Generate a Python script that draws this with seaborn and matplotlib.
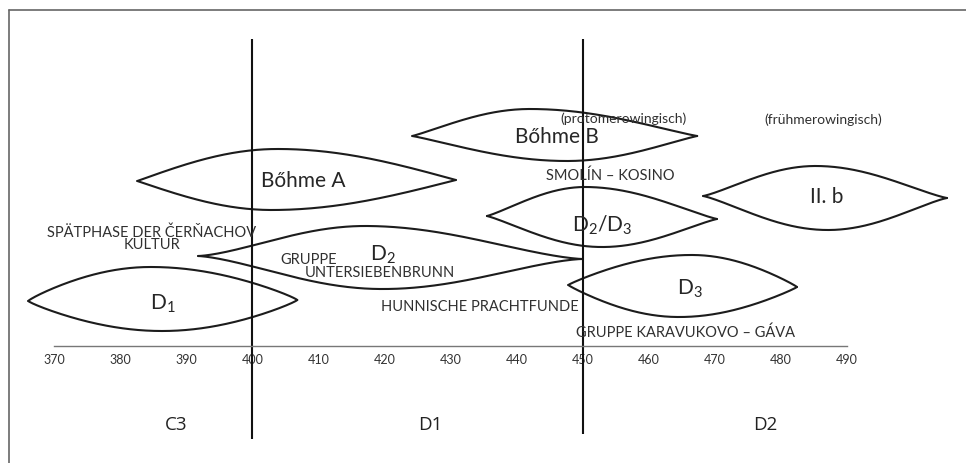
import numpy as np
import pandas as pd
import matplotlib
matplotlib.use("Agg")
import matplotlib.pyplot as plt
import seaborn as sns

# lens-shaped chronology groups (years on x, arbitrary level above the time axis on y)
group_names = ["D1", "Böhme A", "Böhme B", "II.b", "D2/D3", "D2", "D3"]
start_year = [366.1, 382.6, 424.2, 468.2, 435.5, 391.8, 447.8]
end_year = [406.8, 430.8, 467.3, 505.1, 470.3, 449.9, 482.4]
tip_left = [4.5, 16.5, 21.0, 15.0, 13.0, 9.0, 6.1]
tip_right = [4.6, 16.6, 21.0, 14.8, 12.7, 8.7, 5.9]
top_level = [7.9, 19.7, 23.7, 18.0, 15.9, 12.0, 9.1]
top_peak_year = [384.5, 403.7, 442.0, 485.4, 450.6, 417.4, 466.7]
bottom_level = [1.5, 13.6, 18.5, 11.6, 9.9, 5.7, 2.9]
bottom_peak_year = [386.5, 403.1, 447.6, 486.9, 452.6, 419.3, 464.3]
# how sharply each lens tapers toward its tips (1 = plain sine arc)
taper = [0.85, 1.0, 1.1, 1.2, 1.15, 1.45, 0.9]

# lens captions
lens_labels = [r"$\mathrm{D_1}$", "Bőhme A", "Bőhme B", "II. b",
               r"$\mathrm{D_2/D_3}$", r"$\mathrm{D_2}$", r"$\mathrm{D_3}$"]
lens_label_year = [386.5, 407.7, 446.1, 486.9, 452.9, 419.8, 466.2]
lens_label_level = [4.3, 16.6, 21.0, 15.0, 12.2, 9.2, 5.8]

# small-caps annotations
notes = ["(protomerowingisch)", "(frühmerowingisch)", "SMOLÍN – KOSINO",
         "SPÄTPHASE DER ČERŇACHOV", "KULTUR", "HUNNISCHE PRACHTFUNDE",
         "GRUPPE KARAVUKOVO – GÁVA"]
note_year = [456.1, 486.3, 454.1, 384.8, 384.8, 434.4, 465.5]
note_level = [22.8, 22.7, 17.1, 11.45, 10.2, 4.0, 1.4]

# Untersiebenbrunn group text (left aligned)
gruppe_lines = ["GRUPPE", "UNTERSIEBENBRUNN"]
gruppe_year = [404.2, 408.0]
gruppe_level = [8.7, 7.4]

# time axis and period boundaries
tick_years = list(range(370, 500, 10))
boundary_years = [400, 450]
boundary_bottom = [-9.3, -8.8]
boundary_top = [30.7, 30.7]
periods = ["C3", "D1", "D2"]
period_year = [388.5, 426.9, 477.6]
period_level = -7.8


def lens_edge(x0, x1, y0, y1, px, py, p, n=120):
    t = np.concatenate([np.linspace(x0, px, n), np.linspace(px, x1, n)[1:]])
    u = np.where(t <= px, 0.5 * (t - x0) / (px - x0),
                 0.5 + 0.5 * (t - px) / (x1 - px))
    base = y0 + (y1 - y0) * (t - x0) / (x1 - x0)
    base_pk = y0 + (y1 - y0) * (px - x0) / (x1 - x0)
    return t, base + (py - base_pk) * np.clip(np.sin(np.pi * u), 0, 1) ** p


rows = []
for i, g in enumerate(group_names):
    for side, lvl, pk in (("top", top_level[i], top_peak_year[i]),
                          ("bottom", bottom_level[i], bottom_peak_year[i])):
        xs, ys = lens_edge(start_year[i], end_year[i], tip_left[i],
                           tip_right[i], pk, lvl, taper[i])
        for x, y in zip(xs, ys):
            rows.append({"curve": f"{g} {side}", "year": x, "level": y})
df = pd.DataFrame(rows)

sns.set_theme(style="white")
plt.rcParams["font.family"] = ["Lato", "DejaVu Sans"]
plt.rcParams["mathtext.fontset"] = "custom"
plt.rcParams["mathtext.rm"] = "Lato"
plt.rcParams["mathtext.it"] = "Lato:italic"

fig = plt.figure(figsize=(9.66, 4.64), dpi=100)
ax = fig.add_axes([0, 0, 1, 1])

sns.lineplot(data=df, x="year", y="level", units="curve", estimator=None,
             sort=False, color="#1c1c1c", linewidth=1.5, ax=ax)

ax.vlines(boundary_years, boundary_bottom, boundary_top, color="#111111",
          linewidth=1.5)

ax.set_xlim(361.83, 507.97)
ax.set_ylim(-11.7, 34.7)
ax.set_xlabel("")
ax.set_ylabel("")
ax.set_yticks([])
ax.set_xticks(tick_years)
for s in ["top", "left", "right"]:
    ax.spines[s].set_visible(False)
ax.spines["bottom"].set_position(("data", 0))
ax.spines["bottom"].set_bounds(tick_years[0], tick_years[-1])
ax.spines["bottom"].set_color("#777777")
ax.spines["bottom"].set_linewidth(1.0)
ax.tick_params(axis="x", direction="inout", length=5, width=0.9,
               color="#666666", labelsize=9, labelcolor="#333333", pad=2.5)

for lab, x, y in zip(lens_labels, lens_label_year, lens_label_level):
    ax.text(x, y, lab, fontsize=15, color="#262626", ha="center", va="center")
for lab, x, y in zip(notes, note_year, note_level):
    size = 10 if lab.startswith("(") else 10.5
    ax.text(x, y, lab, fontsize=size, color="#303030", ha="center", va="center")
for lab, x, y in zip(gruppe_lines, gruppe_year, gruppe_level):
    ax.text(x, y, lab, fontsize=10.5, color="#303030", ha="left", va="center")
for lab, x in zip(periods, period_year):
    ax.text(x, period_level, lab, fontsize=13.5, color="#222222", ha="center",
            va="center", family=["Open Sans", "DejaVu Sans"])

# scan frame (top and left edges)
fig.add_artist(plt.Line2D([9 / 966, 9 / 966], [0, 1 - 11 / 464],
                          transform=fig.transFigure, color="#666666", lw=1.2))
fig.add_artist(plt.Line2D([9 / 966, 1], [1 - 11 / 464, 1 - 11 / 464],
                          transform=fig.transFigure, color="#666666", lw=1.2))

fig.savefig("out.png", dpi=100)
